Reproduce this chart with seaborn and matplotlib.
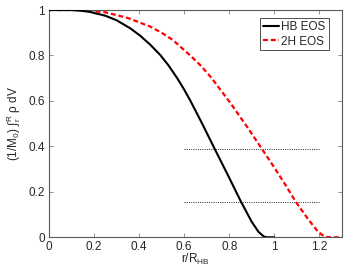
import numpy as np
import pandas as pd
import matplotlib
matplotlib.use('Agg')
import matplotlib.pyplot as plt
import seaborn as sns

# mass fraction outside radius r
r_hb = [0, 0.1, 0.14, 0.18, 0.25, 0.3, 0.36, 0.405, 0.45, 0.494, 0.53,
        0.568, 0.6, 0.627, 0.68, 0.736, 0.8, 0.853, 0.9, 0.93, 0.954,
        0.97, 1.0]
m_hb = [1, 1, 0.997, 0.992, 0.975, 0.955, 0.92, 0.887, 0.847, 0.802, 0.757,
        0.702, 0.65, 0.602, 0.50, 0.388, 0.262, 0.155, 0.068, 0.024, 0.003,
        0.0, 0.0]

r_2h = [0, 0.15, 0.25, 0.35, 0.45, 0.5, 0.55, 0.627, 0.672, 0.72, 0.806,
        0.88, 0.946, 1.0, 1.05, 1.095, 1.15, 1.19, 1.21, 1.228, 1.25, 1.3]
m_2h = [1, 1, 0.99, 0.965, 0.927, 0.90, 0.868, 0.80, 0.757, 0.703, 0.59,
        0.485, 0.388, 0.307, 0.23, 0.157, 0.08, 0.03, 0.012, 0.002, 0.0, 0.0]

# horizontal reference levels
levels = [0.388, 0.155]
level_span = [0.6, 1.2]

x_ticks = [0, 0.2, 0.4, 0.6, 0.8, 1.0, 1.2]
y_ticks = [0, 0.2, 0.4, 0.6, 0.8, 1.0]

sns.set_style('ticks')
plt.rcParams['font.family'] = ['Liberation Sans', 'DejaVu Sans']
plt.rcParams['mathtext.fontset'] = 'custom'
plt.rcParams['mathtext.rm'] = 'Liberation Sans'
plt.rcParams['mathtext.it'] = 'Liberation Sans:italic'
plt.rcParams['font.size'] = 8.5

fig = plt.figure(figsize=(3.46, 2.71), dpi=100)
ax = fig.add_axes([0.1416, 0.1244, 0.8464, 0.8386])

hb = pd.DataFrame({'r': r_hb, 'm': m_hb})
h2 = pd.DataFrame({'r': r_2h, 'm': m_2h})

for lv in levels:
    ax.plot(level_span, [lv, lv], color='0.15', lw=0.7, dashes=(1, 1.3), zorder=1)

sns.lineplot(data=hb, x='r', y='m', ax=ax, color='black', lw=1.5,
             label='HB EOS', zorder=3)
sns.lineplot(data=h2, x='r', y='m', ax=ax, color='red', lw=1.6,
             label='2H EOS', zorder=2)
ax.lines[-1].set_dashes((2.2, 1.3))

ax.set_xlim(0, 1.3)
ax.set_ylim(0, 1)
ax.set_xticks(x_ticks)
ax.set_xticklabels(['0', '0.2', '0.4', '0.6', '0.8', '1', '1.2'])
ax.set_yticks(y_ticks)
ax.set_yticklabels(['0', '0.2', '0.4', '0.6', '0.8', '1'])
ax.tick_params(direction='in', top=True, right=True, length=3, width=0.6,
               color='0.5', labelsize=8.5, pad=3)
for sp in ax.spines.values():
    sp.set_visible(True)
    sp.set_color('0.35')
    sp.set_linewidth(0.8)

ax.set_xlabel(r'r/R$_\mathrm{HB}$', fontsize=8.5, labelpad=-1)
ax.set_ylabel(r'(1/M$_\mathrm{0}$) ∫$_\mathrm{r}^\mathrm{R}$ ρ dV', fontsize=8.5,
              labelpad=4)

leg = ax.legend(loc='upper right', fontsize=8.5, handlelength=1.4,
                handletextpad=0.2, borderpad=0.25, labelspacing=0.2,
                fancybox=False, frameon=True,
                bbox_to_anchor=(0.975, 0.99))
leg.get_frame().set_edgecolor('black')
leg.get_frame().set_linewidth(0.6)

fig.savefig('out.png', dpi=100)
